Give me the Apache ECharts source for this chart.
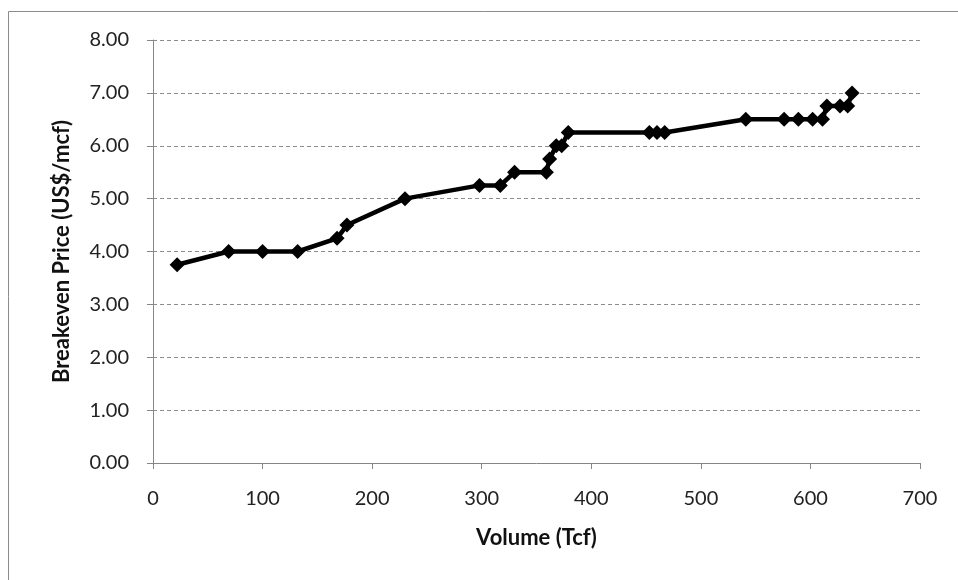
<!DOCTYPE html>
<html>
<head>
<meta charset="utf-8">
<script src="https://cdn.jsdelivr.net/npm/echarts@6/dist/echarts.min.js"></script>
<style>
html,body{margin:0;padding:0;background:#fff;}
#c{width:958px;height:580px;}
</style>
</head>
<body>
<div id="c"></div>
<script>
var volumes = [22, 69, 100, 132, 168, 177, 230, 298, 317, 330, 359, 362, 368, 373, 379, 453, 460, 467, 541, 576, 589, 602, 611, 615, 627, 634, 638];
var prices  = [3.75, 4.00, 4.00, 4.00, 4.25, 4.50, 5.00, 5.25, 5.25, 5.50, 5.50, 5.75, 6.00, 6.00, 6.25, 6.25, 6.25, 6.25, 6.50, 6.50, 6.50, 6.50, 6.50, 6.75, 6.75, 6.75, 7.00];
var xTitle = 'Volume (Tcf)';
var yTitle = 'Breakeven Price (US$/mcf)';

var pts = volumes.map(function(v, i){ return [v, prices[i]]; });
var chart = echarts.init(document.getElementById('c'));
var fontFam = 'Lato, "Open Sans", sans-serif';
chart.setOption({
  animation: false,
  graphic: [{
    type: 'rect', shape: {x: 8.5, y: 11.5, width: 980, height: 600},
    style: {fill: 'none', stroke: '#8c8c8c', lineWidth: 1}, z: -1
  }],
  grid: {left: 153, right: 38, top: 40, bottom: 117},
  xAxis: {
    type: 'value', min: 0, max: 700, interval: 100,
    name: xTitle, nameLocation: 'middle', nameGap: 64,
    nameTextStyle: {fontFamily: fontFam, fontWeight: 'bold', fontSize: 22, color: '#111'},
    axisLine: {lineStyle: {color: '#868686', width: 1}},
    axisTick: {show: true, length: 6, inside: false, lineStyle: {color: '#868686'}},
    axisLabel: {fontFamily: fontFam, fontSize: 20, color: '#222', margin: 26},
    splitLine: {show: false}
  },
  yAxis: {
    type: 'value', min: 0, max: 8, interval: 1,
    name: yTitle, nameLocation: 'middle', nameGap: 80,
    nameTextStyle: {fontFamily: fontFam, fontWeight: 'bold', fontSize: 22, color: '#111'},
    axisLine: {show: true, lineStyle: {color: '#868686', width: 1}},
    axisTick: {show: true, length: 6, lineStyle: {color: '#868686'}},
    axisLabel: {fontFamily: fontFam, fontSize: 20, color: '#222', margin: 24,
      formatter: function(v){ return v.toFixed(2); }},
    splitLine: {show: true, lineStyle: {color: '#8c8c8c', type: [4, 3], width: 1}}
  },
  series: [{
    type: 'line', data: pts,
    symbol: 'diamond', symbolSize: 15,
    lineStyle: {color: '#000', width: 4.5},
    itemStyle: {color: '#000'}
  }]
});
</script>
</body>
</html>
